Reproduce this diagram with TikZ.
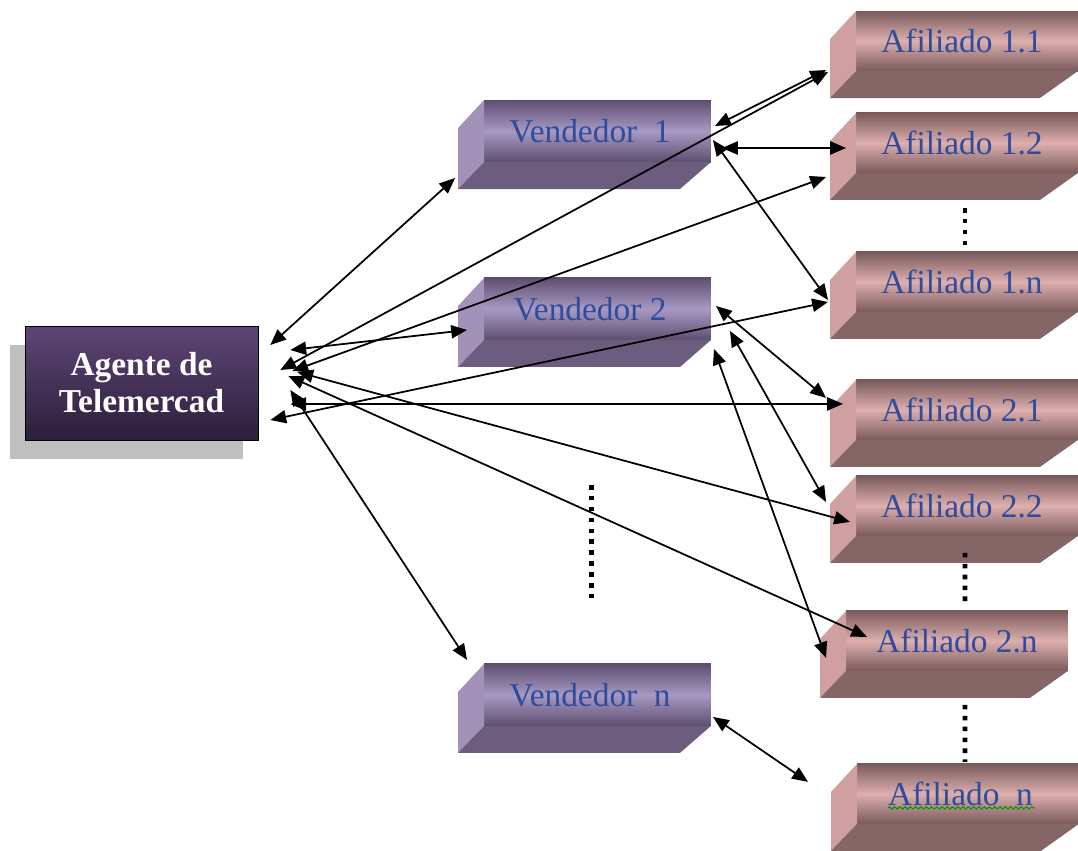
\documentclass[tikz,border=0pt]{standalone}
\usepackage{fontspec}
\setmainfont{Liberation Serif}
\usetikzlibrary{arrows.meta, positioning, calc, shadows, decorations.pathmorphing}
\definecolor{agtop}{HTML}{5E4576}
\definecolor{agbot}{HTML}{2C1F3A}
\definecolor{vlight}{HTML}{A899C4}
\definecolor{vdark}{HTML}{5E4E70}
\definecolor{vside}{HTML}{A292BA}
\definecolor{vfloor}{HTML}{6C5C7D}
\definecolor{alight}{HTML}{DDAFAE}
\definecolor{adark}{HTML}{7A5A5B}
\definecolor{aside}{HTML}{CFA09F}
\definecolor{afloor}{HTML}{856565}
\definecolor{labelblue}{HTML}{2F4C9C}
\tikzset{
  agentbox/.style={
    rectangle,
    minimum width=4.66cm,
    minimum height=2.28cm,
    draw=black,
    top color=agtop,
    bottom color=agbot,
    text=white,
    align=center,
    font=\fontsize{19}{21}\selectfont\bfseries,
    drop shadow={shadow xshift=-0.3cm, shadow yshift=-0.38cm, fill=black!25, opacity=1}
  },
  vendbox/.style={
    rectangle,
    minimum width=4.54cm,
    minimum height=1.24cm,
    inner sep=0pt,
    outer sep=0pt,
    top color=vdark,
    bottom color=vdark,
    middle color=vlight,
    text=labelblue,
    font=\fontsize{19}{22}\selectfont
  },
  afilbox/.style={
    rectangle,
    minimum width=4.44cm,
    minimum height=1.2cm,
    inner sep=0pt,
    outer sep=0pt,
    top color=adark,
    bottom color=adark,
    middle color=alight,
    text=labelblue,
    font=\fontsize{19}{22}\selectfont
  },
  link/.style={
    <->,
    >={Triangle[length=9pt, width=7.5pt]},
    line width=1pt,
    black
  },
  gapdots/.style={
    line width=2.6pt,
    dash pattern=on 2.6pt off 3.6pt
  }
}
\begin{document}
\begin{tikzpicture}[x=0.02cm, y=-0.02cm]
  \useasboundingbox (0,0) rectangle (1078,850);

  % --- agente ---
  \node (agent) [agentbox] at (141.5,383) {Agente de\\Telemercad};

  % --- vendedores ---
  \node (V1) [vendbox] at (597.5,131) {Vendedor\ \ 1\kern0.3cm};
  \node (V2) [vendbox, below=2.32cm of V1] {Vendedor 2\kern0.3cm};
  \node (Vn) [vendbox, below=6.48cm of V2] {Vendedor\ \ n\kern0.3cm};

  % --- afiliados ---
  \node (A11) [afilbox] at (967,41) {Afiliado 1.1\kern0.2cm};
  \node (A12) [afilbox, below=0.84cm of A11] {Afiliado 1.2\kern0.2cm};
  \node (A1n) [afilbox, below=1.58cm of A12] {Afiliado 1.n\kern0.2cm};
  \node (A21) [afilbox, below=1.36cm of A1n] {Afiliado 2.1\kern0.2cm};
  \node (A22) [afilbox, below=0.72cm of A21] {Afiliado 2.2\kern0.2cm};
  \node (A2n) [afilbox, below=1.5cm of A22, xshift=-0.2cm] {Afiliado 2.n};
  \node (An) [afilbox, below=1.86cm of A2n, xshift=0.22cm] {Afiliado\ \ n\kern0.3cm};

  % 3D sides
  \foreach \b in {V1,V2,Vn} {
    \fill[vside] (\b.north west) -- ++(-26,28) -- ++(0,61) -- (\b.south west) -- cycle;
    \fill[vfloor] (\b.south west) -- (\b.south east) -- ++(-31,27) -- ($(\b.south west)+(-26,27)$) -- cycle;
  }
  \foreach \b in {A11,A12,A1n,A21,A22,A2n,An} {
    \fill[aside] (\b.north west) -- ++(-26,28) -- ++(0,59) -- (\b.south west) -- cycle;
    \fill[afloor] (\b.south west) -- (\b.south east) -- ++(-38,27) -- ($(\b.south west)+(-26,27)$) -- cycle;
  }

  % spell check mark
  \draw[green!60!black, line width=0.6pt, decorate, decoration={zigzag, amplitude=0.7pt, segment length=3pt}]
    ($(An.center)+(-80,14)$) -- ++(147,0);

  % dotted gaps
  \draw[gapdots] ($(V2.south)+(-6,145)$) -- ($(Vn.north)+(-6,-62)$);
  \draw[gapdots] ($(A12.south)+(-2,35)$) -- ($(A1n.north)+(-2,-5)$);
  \draw[gapdots] ($(A22.south)+(-2,17)$) -- ($(A2n.north)+(8,-6)$);
  \draw[gapdots] ($(A2n.south)+(8,34)$) -- ($(An.north)+(-3,-2)$);

  % agente links
  \draw[link] ($(agent.east)+(12,-38)$) -- ($(V1.west)+(-29,47)$);
  \draw[link] ($(agent.east)+(32,-33)$) -- ($(V2.west)+(-17,21)$);
  \draw[link] ($(agent.east)+(22,-13)$) -- ($(A11.west)+(-28,31)$);
  \draw[link] ($(agent.east)+(34,-12)$) -- ($(A12.west)+(-30,34)$);
  \draw[link] ($(agent.east)+(12,37)$) -- ($(A1n.west)+(-28,20)$);
  \draw[link] ($(agent.east)+(32,21)$) -- ($(A21.west)+(-13,-6)$);
  \draw[link] ($(agent.east)+(32,7)$) -- ($(Vn.west)+(-17,-35)$);
  \draw[link] ($(agent.east)+(39,-11)$) -- ($(A22.west)+(-6,16)$);
  \draw[link] ($(agent.east)+(30,-7)$) -- ($(A2n.west)+(21,-4)$);

  % vendedor links
  \draw[link] ($(V1.east)+(4,-5)$) -- ($(A11.west)+(-30,29)$);
  \draw[link] ($(V1.east)+(11,17)$) -- ($(A12.west)+(-10,5)$);
  \draw[link] ($(V1.east)+(2,9)$) -- ($(A1n.west)+(-28,18)$);
  \draw[link] ($(V2.east)+(5,-3)$) -- ($(A21.west)+(-30,-12)$);
  \draw[link] ($(V2.east)+(19,22)$) -- ($(A22.west)+(-30,-4)$);
  \draw[link] ($(V2.east)+(3,40)$) -- ($(A2n.west)+(-20,17)$);
  \draw[link] ($(Vn.east)+(2,22)$) -- ($(An.west)+(-49,-12)$);

\end{tikzpicture}
\end{document}
